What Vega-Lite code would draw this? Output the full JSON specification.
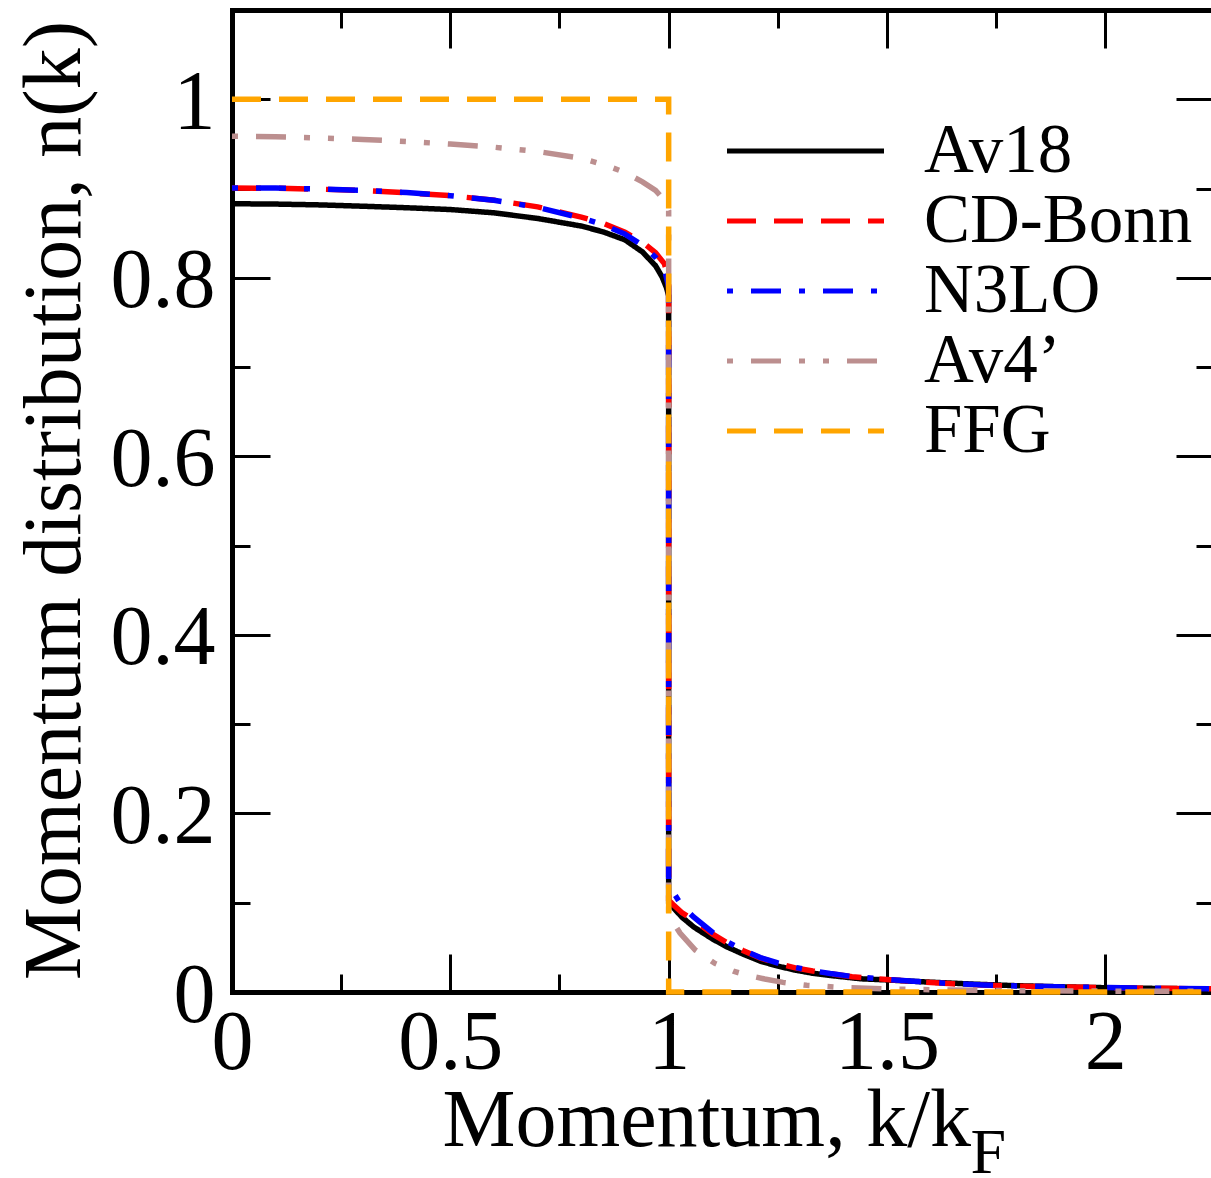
{
  "$schema": "https://vega.github.io/schema/vega-lite/v6.json",
  "width": 979,
  "height": 982,
  "autosize": {"type": "none"},
  "padding": {"left": 232, "top": 10, "right": 0, "bottom": 186},
  "background": "white",
  "config": {"view": {"stroke": null}, "font": "Liberation Serif"},
  "resolve": {"axis": {"x": "independent", "y": "independent"}},
  "layer": [
    {
      "data": {"values": [
        {"model":"Av18","k":0,"n":0.883},{"model":"Av18","k":0.1,"n":0.8826},{"model":"Av18","k":0.2,"n":0.8817},{"model":"Av18","k":0.3,"n":0.8802},{"model":"Av18","k":0.4,"n":0.8785},{"model":"Av18","k":0.5,"n":0.8765},{"model":"Av18","k":0.6,"n":0.8728},{"model":"Av18","k":0.7,"n":0.8665},{"model":"Av18","k":0.8,"n":0.858},{"model":"Av18","k":0.85,"n":0.8515},{"model":"Av18","k":0.9,"n":0.8425},{"model":"Av18","k":0.94,"n":0.829},{"model":"Av18","k":0.97,"n":0.8135},{"model":"Av18","k":0.985,"n":0.801},{"model":"Av18","k":0.995,"n":0.789},{"model":"Av18","k":1,"n":0.78},{"model":"Av18","k":1,"n":0.1},{"model":"Av18","k":1.01,"n":0.095},{"model":"Av18","k":1.03,"n":0.084},{"model":"Av18","k":1.057,"n":0.073},{"model":"Av18","k":1.1,"n":0.0595},{"model":"Av18","k":1.133,"n":0.0507},{"model":"Av18","k":1.17,"n":0.0425},{"model":"Av18","k":1.21,"n":0.0345},{"model":"Av18","k":1.25,"n":0.029},{"model":"Av18","k":1.29,"n":0.0245},{"model":"Av18","k":1.33,"n":0.021},{"model":"Av18","k":1.37,"n":0.0185},{"model":"Av18","k":1.44,"n":0.0148},{"model":"Av18","k":1.5,"n":0.0135},{"model":"Av18","k":1.6,"n":0.011},{"model":"Av18","k":1.7,"n":0.0088},{"model":"Av18","k":1.8,"n":0.007},{"model":"Av18","k":1.9,"n":0.0058},{"model":"Av18","k":2.0,"n":0.0048},{"model":"Av18","k":2.1,"n":0.0041},{"model":"Av18","k":2.242,"n":0.0034},
        {"model":"CD-Bonn","k":0,"n":0.9005},{"model":"CD-Bonn","k":0.1,"n":0.9003},{"model":"CD-Bonn","k":0.2,"n":0.8993},{"model":"CD-Bonn","k":0.3,"n":0.8978},{"model":"CD-Bonn","k":0.4,"n":0.8953},{"model":"CD-Bonn","k":0.5,"n":0.892},{"model":"CD-Bonn","k":0.6,"n":0.887},{"model":"CD-Bonn","k":0.7,"n":0.8795},{"model":"CD-Bonn","k":0.8,"n":0.868},{"model":"CD-Bonn","k":0.85,"n":0.861},{"model":"CD-Bonn","k":0.9,"n":0.851},{"model":"CD-Bonn","k":0.94,"n":0.84},{"model":"CD-Bonn","k":0.97,"n":0.828},{"model":"CD-Bonn","k":0.99,"n":0.816},{"model":"CD-Bonn","k":1,"n":0.8},{"model":"CD-Bonn","k":1,"n":0.103},{"model":"CD-Bonn","k":1.01,"n":0.098},{"model":"CD-Bonn","k":1.03,"n":0.089},{"model":"CD-Bonn","k":1.057,"n":0.0806},{"model":"CD-Bonn","k":1.1,"n":0.065},{"model":"CD-Bonn","k":1.133,"n":0.0555},{"model":"CD-Bonn","k":1.17,"n":0.0465},{"model":"CD-Bonn","k":1.21,"n":0.038},{"model":"CD-Bonn","k":1.25,"n":0.032},{"model":"CD-Bonn","k":1.29,"n":0.027},{"model":"CD-Bonn","k":1.33,"n":0.0235},{"model":"CD-Bonn","k":1.37,"n":0.0205},{"model":"CD-Bonn","k":1.42,"n":0.0172},{"model":"CD-Bonn","k":1.5,"n":0.014},{"model":"CD-Bonn","k":1.57,"n":0.0115},{"model":"CD-Bonn","k":1.65,"n":0.0092},{"model":"CD-Bonn","k":1.72,"n":0.0077},{"model":"CD-Bonn","k":1.8,"n":0.0066},{"model":"CD-Bonn","k":1.95,"n":0.0052},{"model":"CD-Bonn","k":2.1,"n":0.0042},{"model":"CD-Bonn","k":2.242,"n":0.0035},
        {"model":"N3LO","k":0,"n":0.9005},{"model":"N3LO","k":0.1,"n":0.9005},{"model":"N3LO","k":0.2,"n":0.8995},{"model":"N3LO","k":0.3,"n":0.898},{"model":"N3LO","k":0.4,"n":0.8955},{"model":"N3LO","k":0.5,"n":0.892},{"model":"N3LO","k":0.6,"n":0.8868},{"model":"N3LO","k":0.7,"n":0.879},{"model":"N3LO","k":0.8,"n":0.867},{"model":"N3LO","k":0.85,"n":0.8595},{"model":"N3LO","k":0.9,"n":0.849},{"model":"N3LO","k":0.94,"n":0.8365},{"model":"N3LO","k":0.97,"n":0.823},{"model":"N3LO","k":0.99,"n":0.81},{"model":"N3LO","k":1,"n":0.79},{"model":"N3LO","k":1,"n":0.125},{"model":"N3LO","k":1.01,"n":0.112},{"model":"N3LO","k":1.03,"n":0.097},{"model":"N3LO","k":1.057,"n":0.084},{"model":"N3LO","k":1.1,"n":0.067},{"model":"N3LO","k":1.133,"n":0.0565},{"model":"N3LO","k":1.17,"n":0.047},{"model":"N3LO","k":1.21,"n":0.0385},{"model":"N3LO","k":1.25,"n":0.0325},{"model":"N3LO","k":1.29,"n":0.0275},{"model":"N3LO","k":1.33,"n":0.0238},{"model":"N3LO","k":1.37,"n":0.0207},{"model":"N3LO","k":1.42,"n":0.0174},{"model":"N3LO","k":1.5,"n":0.0142},{"model":"N3LO","k":1.57,"n":0.0117},{"model":"N3LO","k":1.65,"n":0.0094},{"model":"N3LO","k":1.72,"n":0.0078},{"model":"N3LO","k":1.8,"n":0.0067},{"model":"N3LO","k":1.95,"n":0.0053},{"model":"N3LO","k":2.1,"n":0.0043},{"model":"N3LO","k":2.242,"n":0.0036},
        {"model":"Av4’","k":0,"n":0.9586},{"model":"Av4’","k":0.1,"n":0.958},{"model":"Av4’","k":0.2,"n":0.9567},{"model":"Av4’","k":0.3,"n":0.955},{"model":"Av4’","k":0.4,"n":0.9527},{"model":"Av4’","k":0.5,"n":0.9498},{"model":"Av4’","k":0.6,"n":0.9463},{"model":"Av4’","k":0.7,"n":0.9415},{"model":"Av4’","k":0.8,"n":0.934},{"model":"Av4’","k":0.86,"n":0.9255},{"model":"Av4’","k":0.9,"n":0.918},{"model":"Av4’","k":0.94,"n":0.9075},{"model":"Av4’","k":0.97,"n":0.898},{"model":"Av4’","k":0.99,"n":0.887},{"model":"Av4’","k":1,"n":0.875},{"model":"Av4’","k":1,"n":0.088},{"model":"Av4’","k":1.003,"n":0.084},{"model":"Av4’","k":1.026,"n":0.066},{"model":"Av4’","k":1.061,"n":0.047},{"model":"Av4’","k":1.106,"n":0.032},{"model":"Av4’","k":1.15,"n":0.023},{"model":"Av4’","k":1.179,"n":0.019},{"model":"Av4’","k":1.22,"n":0.0145},{"model":"Av4’","k":1.262,"n":0.0108},{"model":"Av4’","k":1.316,"n":0.0075},{"model":"Av4’","k":1.4,"n":0.005},{"model":"Av4’","k":1.5,"n":0.0035},{"model":"Av4’","k":1.6,"n":0.0025},{"model":"Av4’","k":1.8,"n":0.0015},{"model":"Av4’","k":2.0,"n":0.001},{"model":"Av4’","k":2.242,"n":0.0007},
        {"model":"FFG","k":0,"n":1},{"model":"FFG","k":1,"n":1},{"model":"FFG","k":1,"n":0},{"model":"FFG","k":2.242,"n":0}
      ]},
      "mark": {"type": "line", "strokeWidth": 5.5, "strokeCap": "butt"},
      "encoding": {
        "x": {
          "field": "k", "type": "quantitative",
          "scale": {"domain": [0, 2.242], "nice": false, "zero": false},
          "axis": {
            "orient": "bottom", "values": [0, 0.25, 0.5, 0.75, 1, 1.25, 1.5, 1.75, 2],
            "grid": false, "domain": true, "domainColor": "black", "domainWidth": 5, "domainCap": "square",
            "ticks": true, "tickColor": "black", "tickWidth": 3,
            "tickSize": {"condition": {"test": "datum.value % 0.5 == 0", "value": -38}, "value": -18},
            "labelExpr": "datum.value % 0.5 == 0 ? format(datum.value, '') : ''",
            "labelFont": "Liberation Serif", "labelFontSize": 84, "labelColor": "black",
            "labelPadding": 48, "labelFlush": false, "labelOverlap": false,
            "title": "Momentum, k/k", "titleFont": "Liberation Serif", "titleFontSize": 82, "titleFontWeight": "normal",
            "titleColor": "black", "titleX": 210, "titleY": 153, "titleAlign": "left", "titleBaseline": "alphabetic"
          }
        },
        "y": {
          "field": "n", "type": "quantitative",
          "scale": {"domain": [0, 1.1], "nice": false, "zero": false},
          "axis": {
            "orient": "left", "values": [0, 0.1, 0.2, 0.3, 0.4, 0.5, 0.6, 0.7, 0.8, 0.9, 1.0],
            "grid": false, "domain": true, "domainColor": "black", "domainWidth": 5, "domainCap": "square",
            "ticks": true, "tickColor": "black", "tickWidth": 3,
            "tickSize": {"condition": {"test": "round(datum.value * 10) % 2 == 0", "value": -38}, "value": -18},
            "labelExpr": "round(datum.value * 10) % 2 == 0 ? format(datum.value, '') : ''",
            "labelFont": "Liberation Serif", "labelFontSize": 84, "labelColor": "black",
            "labelPadding": 55, "labelOffset": 4, "labelBaseline": "middle", "labelFlush": false, "labelOverlap": false,
            "title": "Momentum distribution, n(k)", "titleFont": "Liberation Serif", "titleFontSize": 82, "titleFontWeight": "normal",
            "titleColor": "black", "titleX": -153, "titleY": 490, "titleAngle": 270, "titleAlign": "center", "titleBaseline": "alphabetic"
          }
        },
        "color": {
          "field": "model", "type": "nominal",
          "scale": {"domain": ["Av18", "CD-Bonn", "N3LO", "Av4’", "FFG"], "range": ["#000000", "#FF0000", "#0000FF", "#BC8F8F", "#FFA500"]},
          "legend": {
            "orient": "none", "legendX": 492.5, "legendY": 107.75, "title": null, "padding": 0,
            "symbolType": "stroke", "symbolSize": 24649, "symbolStrokeWidth": 5,
            "labelFont": "Liberation Serif", "labelFontSize": 69, "labelColor": "black", "labelOffset": 37.5,
            "labelLimit": 0, "rowPadding": 0, "clipHeight": 66.5
          }
        },
        "strokeDash": {
          "field": "model", "type": "nominal",
          "scale": {"domain": ["Av18", "CD-Bonn", "N3LO", "Av4’", "FFG"], "range": [[1, 0], [29, 18], [6, 18, 30, 18], [6, 18, 30, 18, 6, 18], [29, 18]]},
          "legend": {
            "orient": "none", "legendX": 492.5, "legendY": 107.75, "title": null, "padding": 0,
            "symbolType": "stroke", "symbolSize": 24649, "symbolStrokeWidth": 5,
            "labelFont": "Liberation Serif", "labelFontSize": 69, "labelColor": "black", "labelOffset": 37.5,
            "labelLimit": 0, "rowPadding": 0, "clipHeight": 66.5
          }
        }
      }
    },
    {
      "data": {"values": [{"k": 1.732, "n": -0.2027, "t": "F"}]},
      "mark": {"type": "text", "font": "Liberation Serif", "fontSize": 64, "align": "center", "baseline": "alphabetic", "color": "black"},
      "encoding": {
        "x": {
          "field": "k", "type": "quantitative",
          "scale": {"domain": [0, 2.242], "nice": false, "zero": false},
          "axis": {
            "orient": "top", "values": [0, 0.25, 0.5, 0.75, 1, 1.25, 1.5, 1.75, 2],
            "grid": false, "domain": true, "domainColor": "black", "domainWidth": 5, "domainCap": "square",
            "ticks": true, "tickColor": "black", "tickWidth": 3,
            "tickSize": {"condition": {"test": "datum.value % 0.5 == 0", "value": -38}, "value": -18},
            "labels": false, "title": null
          }
        },
        "y": {
          "field": "n", "type": "quantitative",
          "scale": {"domain": [0, 1.1], "nice": false, "zero": false},
          "axis": {
            "orient": "right", "values": [0, 0.1, 0.2, 0.3, 0.4, 0.5, 0.6, 0.7, 0.8, 0.9, 1.0],
            "grid": false, "domain": false,
            "ticks": true, "tickColor": "black", "tickWidth": 3,
            "tickSize": {"condition": {"test": "round(datum.value * 10) % 2 == 0", "value": -35}, "value": -15},
            "labels": false, "title": null
          }
        },
        "text": {"field": "t"}
      }
    }
  ]
}
